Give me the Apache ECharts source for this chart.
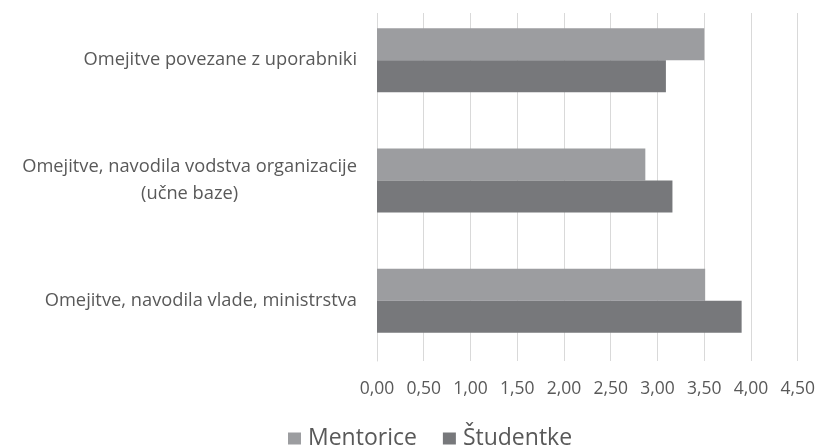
<!DOCTYPE html>
<html>
<head>
<meta charset="utf-8">
<script src="https://cdn.jsdelivr.net/npm/echarts@6/dist/echarts.min.js"></script>
<style>
  html, body { margin: 0; padding: 0; background: #fff; }
  #chart { width: 818px; height: 445px; }
</style>
</head>
<body>
<div id="chart"></div>
<script>
var categories = [
    'Omejitve povezane z uporabniki',
    'Omejitve, navodila vodstva organizacije\n{c|(učne baze)}',
    'Omejitve, navodila vlade, ministrstva'
];
var mentorice = [3.50, 2.87, 3.51];
var studentke = [3.09, 3.16, 3.90];
var ticks = { min: 0, max: 4.5, step: 0.5 };

var font = 'Open Sans';
var textColor = '#595959';

var myChart = echarts.init(document.getElementById('chart'));
var option = {
    animation: false,
    textStyle: { fontFamily: font },
    grid: {
        left: 377,
        right: 19,
        top: -3,
        bottom: 84
    },
    legend: {
        data: ['Mentorice', 'Študentke'],
        left: 288,
        top: 427,
        padding: 0,
        icon: 'rect',
        itemWidth: 13,
        itemHeight: 12,
        itemGap: 26,
        textStyle: { fontFamily: font, fontSize: 23, color: textColor, padding: [0, 0, 0, 2] }
    },
    xAxis: [{
        type: 'value',
        min: ticks.min,
        max: ticks.max,
        interval: ticks.step,
        axisLine: { show: false },
        axisTick: { show: false },
        splitLine: { lineStyle: { color: '#d9d9d9', width: 1 } },
        axisLabel: {
            margin: 19,
            fontFamily: font,
            fontSize: 17.5,
            color: textColor,
            formatter: function(v) {
                return v.toFixed(2).replace('.', ',');
            }
        }
    }],
    yAxis: [{
        type: 'category',
        inverse: true,
        data: categories,
        axisTick: { show: false },
        axisLine: { lineStyle: { color: '#d9d9d9' } },
        axisLabel: {
            margin: 20,
            fontFamily: font,
            fontSize: 18.3,
            lineHeight: 27,
            color: textColor,
            rich: {
                c: { fontFamily: font, fontSize: 18.3, lineHeight: 27, color: textColor, align: 'center' }
            }
        }
    }],
    series: [{
        name: 'Mentorice',
        type: 'bar',
        data: mentorice,
        barWidth: 32,
        barGap: '0%',
        itemStyle: { color: '#9c9da0' }
    }, {
        name: 'Študentke',
        type: 'bar',
        data: studentke,
        barWidth: 32,
        barGap: '0%',
        itemStyle: { color: '#77787b' }
    }],
    graphic: [{
        type: 'rect',
        z: 100,
        shape: { x: 370, y: 0, width: 448, height: 13 },
        style: { fill: '#fff' }
    }]
};
myChart.setOption(option);
</script>
</body>
</html>
